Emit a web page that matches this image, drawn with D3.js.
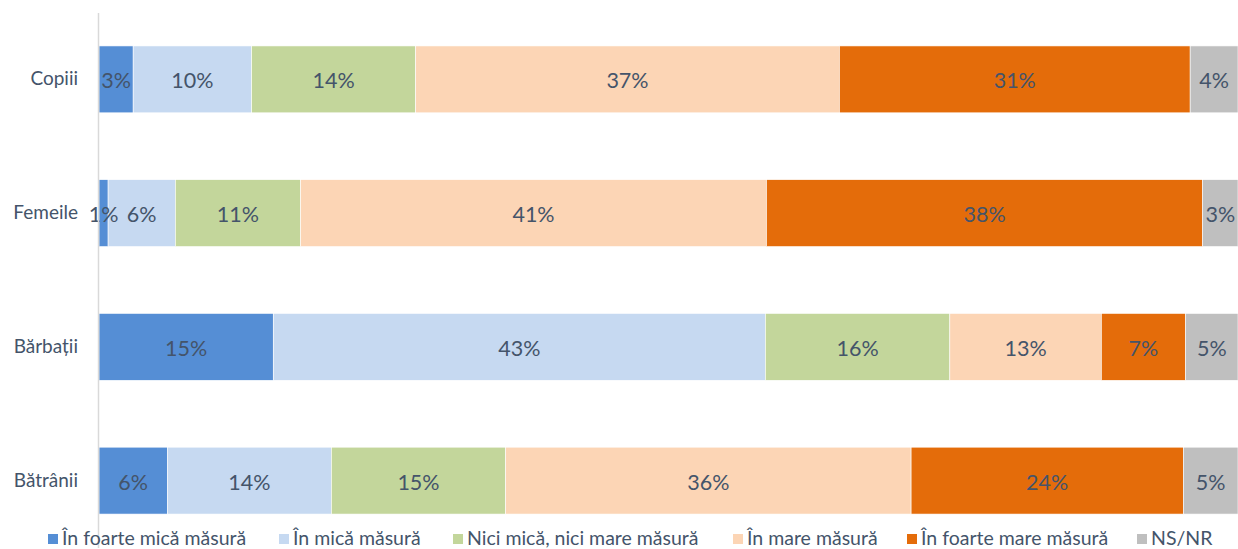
<!DOCTYPE html>
<html><head><meta charset="utf-8">
<script src="https://cdn.jsdelivr.net/npm/d3@7"></script>
<style>body{margin:0;background:#fff}svg{display:block}</style>
</head><body>
<svg id="chart" width="1238" height="549"></svg>
<script>
const categories = ["Copiii", "Femeile", "Bărbații", "Bătrânii"];
const seriesNames = ["În foarte mică măsură", "În mică măsură", "Nici mică, nici mare măsură", "În mare măsură", "În foarte mare măsură", "NS/NR"];
const foarteMica = [3.0, 0.8, 15.3, 6.0];
const mica = [10.4, 5.9, 43.2, 14.4];
const nici = [14.4, 11.0, 16.2, 15.3];
const mare = [37.2, 40.9, 13.3, 35.6];
const foarteMare = [30.8, 38.3, 7.4, 23.9];
const nsnr = [4.2, 3.1, 4.6, 4.8];
const colors = ["#558ed5", "#c6d9f1", "#c3d69b", "#fcd5b5", "#e46c0a", "#bfbfbf"];

const seriesValues = [foarteMica, mica, nici, mare, foarteMare, nsnr];
const rows = categories.map((c, i) => {
  const o = {cat: c};
  seriesNames.forEach((s, j) => o[s] = seriesValues[j][i]);
  return o;
});
const stacked = d3.stack().keys(seriesNames)(rows);

const svg = d3.select("#chart");
const font = "Lato, 'Open Sans', sans-serif";
const x = d3.scaleLinear().domain([0, 100]).range([99, 1238]);
const y = d3.scaleBand().domain(categories).range([12.5, 547.5]).paddingInner(0.5).paddingOuter(0.25);
const color = d3.scaleOrdinal().domain(seriesNames).range(colors);

const gBars = svg.append("g");
const gLabels = svg.append("g");
stacked.forEach(layer => {
  gBars.append("g").attr("fill", color(layer.key))
    .selectAll("rect").data(layer).join("rect")
    .attr("x", d => x(d[0]))
    .attr("y", d => y(d.data.cat))
    .attr("width", d => x(d[1]) - x(d[0]))
    .attr("height", y.bandwidth())
    .attr("stroke", "#fff").attr("stroke-width", 0.6);
  gLabels.append("g").selectAll("text").data(layer).join("text")
    .attr("x", d => (x(d[0]) + x(d[1])) / 2)
    .attr("y", d => y(d.data.cat) + y.bandwidth() / 2 + 1)
    .attr("text-anchor", "middle").attr("dominant-baseline", "central")
    .attr("fill", "#44546a").attr("font-family", font).attr("font-size", 21.5)
    .text(d => Math.round(d[1] - d[0]) + "%");
});

const yAxis = svg.append("g").attr("transform", "translate(98,0)")
  .call(d3.axisLeft(y).tickSize(0).tickPadding(20));
yAxis.select(".domain").attr("stroke", "#d9d9d9").attr("stroke-width", 1.5);
yAxis.selectAll("text").attr("fill", "#44546a").attr("font-family", font).attr("font-size", 19);

const legendX = [48, 279, 453, 733, 907, 1137];
const leg = svg.append("g");
seriesNames.forEach((s, i) => {
  const it = leg.append("g").attr("transform", `translate(${legendX[i]},532)`);
  it.append("rect").attr("width", 10).attr("height", 10).attr("y", 2).attr("fill", color(s));
  it.append("text").attr("x", 14).attr("y", 12.5)
    .attr("fill", "#44546a").attr("font-family", font).attr("font-size", 19.5).text(s);
});
</script>
</body></html>
